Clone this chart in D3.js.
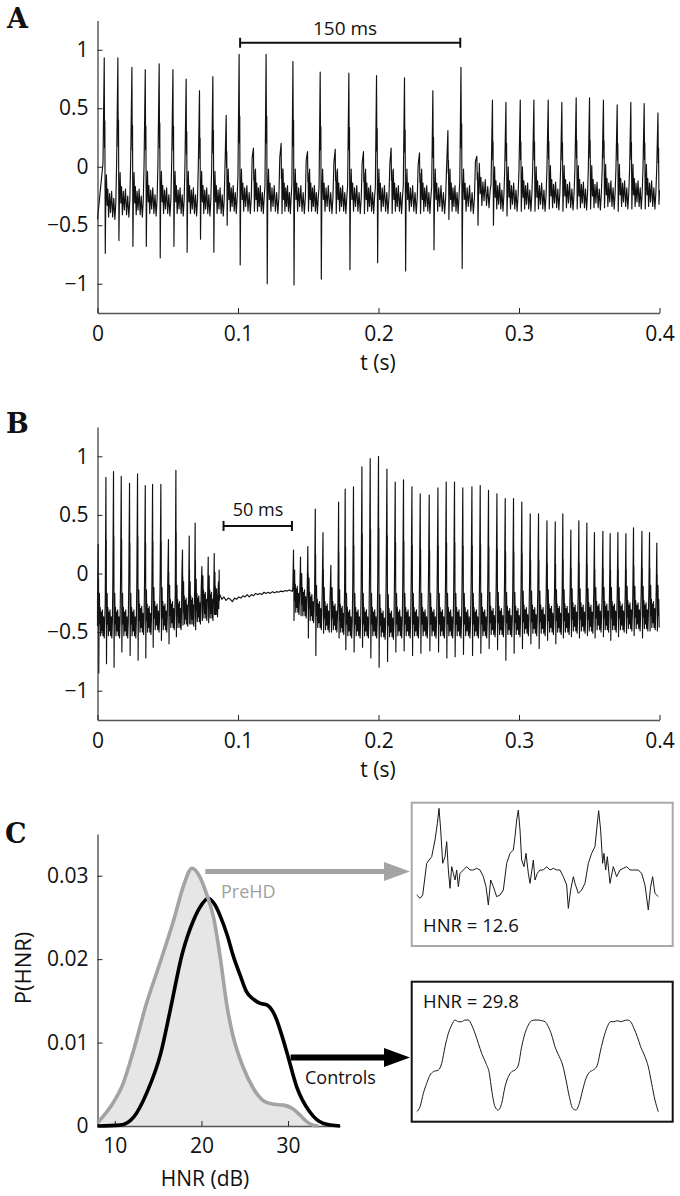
<!DOCTYPE html>
<html><head><meta charset="utf-8">
<script src="https://cdn.jsdelivr.net/npm/d3@7"></script>
<style>
body{margin:0;background:#fff;}
svg{display:block;font-family:"Open Sans",sans-serif;}
</style></head><body>
<svg id="c" width="680" height="1196"></svg>
<script>
// ---------- Panel A: glottal pulses (time s, peak, negative spike, baseline) ----------
const tA = [0.0048,0.0145,0.0245,0.0340,0.0439,0.0537,0.0631,0.0726,0.0821,0.0916,0.1008,0.1110,0.1200,0.1307,0.1391,0.1495,0.1585,0.1692,0.1789,0.1893,0.1986,0.2090,0.2185,0.2292,0.2387,0.2494,0.2587,0.2700,0.2811,0.2907,0.3009,0.3106,0.3208,0.3305,0.3407,0.3502,0.3601,0.3699,0.3796,0.3891,0.3989];
const peakA = [0.93,0.93,0.85,0.83,0.88,0.83,0.75,0.65,0.77,0.44,0.96,0.16,0.96,0.20,0.90,0.13,0.81,0.15,0.80,0.13,0.78,0.16,0.76,0.12,0.65,0.31,0.85,0.09,0.57,0.55,0.57,0.57,0.57,0.55,0.59,0.59,0.57,0.53,0.55,0.54,0.46];
const troughA = [-0.74,-0.63,-0.68,-0.68,-0.78,-0.68,-0.73,-0.62,-0.73,-0.50,-0.84,-0.38,-1.00,-0.40,-1.01,-0.38,-0.96,-0.40,-0.88,-0.40,-0.82,-0.40,-0.89,-0.40,-0.71,-0.45,-0.87,-0.50,-0.50,-0.42,-0.38,-0.38,-0.36,-0.38,-0.36,-0.36,-0.35,-0.38,-0.36,-0.36,-0.32];
const baseA = [-0.35,-0.33,-0.33,-0.32,-0.32,-0.32,-0.32,-0.32,-0.32,-0.30,-0.30,-0.30,-0.30,-0.30,-0.30,-0.30,-0.30,-0.30,-0.30,-0.30,-0.30,-0.30,-0.30,-0.30,-0.30,-0.30,-0.30,-0.25,-0.28,-0.28,-0.28,-0.28,-0.27,-0.27,-0.27,-0.27,-0.26,-0.26,-0.26,-0.26,-0.25];

// ---------- Panel B: before the break ----------
const tB1 = [0.0005,0.0060,0.0114,0.0169,0.0228,0.0285,0.0340,0.0392,0.0451,0.0505,0.0558,0.0605,0.0653,0.0695,0.0743,0.0788,0.0831,0.0861];
const peakB1 = [0.25,0.82,0.87,0.83,0.77,0.85,0.75,0.76,0.76,0.29,0.88,0.20,0.32,0.43,0.06,0.14,0.17,-0.07];
const troughB1 = [-0.85,-0.77,-0.80,-0.67,-0.70,-0.74,-0.72,-0.63,-0.57,-0.60,-0.54,-0.44,-0.43,-0.48,-0.40,-0.42,-0.35,-0.30];
const baseB1 = [-0.45,-0.45,-0.45,-0.45,-0.45,-0.42,-0.42,-0.40,-0.40,-0.38,-0.38,-0.35,-0.35,-0.33,-0.30,-0.30,-0.27,-0.25];
// break (no voicing)
const gapB = [[0.0870,-0.18],[0.0885,-0.22],[0.0900,-0.20],[0.0915,-0.23],[0.0930,-0.21],[0.0945,-0.22],[0.0960,-0.24],[0.0975,-0.21],[0.0990,-0.22],[0.1005,-0.20],[0.1020,-0.21],[0.1035,-0.19],[0.1050,-0.20],[0.1065,-0.18],[0.1080,-0.20],[0.1095,-0.18],[0.1110,-0.19],[0.1125,-0.17],[0.1140,-0.18],[0.1155,-0.17],[0.1170,-0.18],[0.1185,-0.16],[0.1200,-0.17],[0.1215,-0.16],[0.1230,-0.17],[0.1245,-0.155],[0.1260,-0.165],[0.1275,-0.155],[0.1290,-0.16],[0.1305,-0.15],[0.1320,-0.155],[0.1335,-0.145],[0.1350,-0.15],[0.1365,-0.14],[0.1380,-0.15]];
// after the break
const tB2 = [0.1395,0.1445,0.1497,0.1550,0.1605,0.1661,0.1716,0.1763,0.1822,0.1882,0.1941,0.2000,0.2060,0.2119,0.2178,0.2238,0.2297,0.2361,0.2423,0.2482,0.2541,0.2600,0.2665,0.2724,0.2783,0.2843,0.2902,0.2961,0.3020,0.3080,0.3139,0.3199,0.3258,0.3312,0.3369,0.3426,0.3483,0.3537,0.3597,0.3649,0.3704,0.3761,0.3815,0.3875,0.3929,0.3981];
const peakB2 = [0.20,0.14,0.23,0.55,0.35,0.07,0.61,0.72,0.74,0.91,0.98,1.00,0.89,0.78,0.80,0.74,0.68,0.67,0.73,0.78,0.78,0.73,0.74,0.75,0.71,0.68,0.64,0.64,0.61,0.51,0.51,0.45,0.44,0.51,0.37,0.45,0.43,0.35,0.36,0.34,0.35,0.34,0.39,0.36,0.35,0.26];
const troughB2 = [-0.40,-0.36,-0.55,-0.70,-0.51,-0.50,-0.55,-0.65,-0.67,-0.63,-0.72,-0.80,-0.75,-0.67,-0.66,-0.70,-0.68,-0.66,-0.67,-0.72,-0.71,-0.69,-0.70,-0.68,-0.64,-0.65,-0.74,-0.68,-0.64,-0.60,-0.64,-0.57,-0.60,-0.55,-0.54,-0.55,-0.53,-0.55,-0.54,-0.57,-0.54,-0.51,-0.53,-0.55,-0.49,-0.49];
const baseB2 = [-0.25,-0.28,-0.32,-0.38,-0.40,-0.40,-0.42,-0.45,-0.45,-0.45,-0.45,-0.46,-0.46,-0.45,-0.45,-0.45,-0.45,-0.45,-0.45,-0.45,-0.45,-0.45,-0.45,-0.45,-0.44,-0.44,-0.44,-0.44,-0.43,-0.43,-0.43,-0.42,-0.42,-0.42,-0.41,-0.41,-0.41,-0.40,-0.40,-0.40,-0.40,-0.39,-0.39,-0.39,-0.38,-0.38];

// shape of one cycle: [fraction of period, anchor, weight]
const cycleShape = [
 [0.000,"P",1.00],[0.025,"P",0.40],[0.045,"P",0.58],[0.075,"Q",0],
 [0.110,"B",0.05],[0.160,"B",0.28],[0.210,"B",0.02],[0.260,"B",0.16],
 [0.320,"B",-0.08],[0.390,"B",0.12],[0.460,"B",-0.04],[0.540,"B",0.14],
 [0.620,"B",-0.08],[0.700,"B",0.08],[0.780,"B",-0.10],[0.850,"B",0.04],
 [0.910,"P",0.30]];

const xTicksAB = [0,0.1,0.2,0.3,0.4];
const yTicksAB = [-1,-0.5,0,0.5,1];

// ---------- Panel C ----------
const hnrPre = [8.0,9.5,11.0,12.2,13.6,15.2,16.8,18.0,18.9,19.8,20.6,21.4,22.2,22.9,23.6,24.8,26.0,27.2,28.4,29.5,30.5,31.4,32.2,32.9,33.5];
const pPre = [0.0004,0.0023,0.0052,0.0092,0.0145,0.0195,0.0247,0.0290,0.0309,0.0299,0.0278,0.0250,0.0200,0.0147,0.0110,0.0071,0.0045,0.0030,0.0026,0.0025,0.0021,0.0013,0.0005,0.0001,0];
const hnrCtl = [8.0,10.6,12.2,13.7,15.3,16.4,17.8,19.1,20.0,20.8,21.5,22.2,23.0,23.7,24.5,25.2,26.0,26.8,27.6,28.2,28.7,29.3,29.9,31.0,32.5,34.1,36.0];
const pCtl = [0,0.0001,0.0011,0.0040,0.0087,0.0139,0.0207,0.0247,0.0265,0.0273,0.0266,0.0251,0.0228,0.0203,0.0180,0.0161,0.0152,0.0147,0.0145,0.0138,0.0127,0.0108,0.0087,0.0047,0.0017,0.0003,0];
const xTicksC = [10,20,30];
const yTicksC = [0,0.01,0.02,0.03];

// inset waveforms (sample index, amplitude a.u.)
const insetPreN = [50,60,68,80,95,105,112,117,122,128,135,140,145,150,155,160,165,170,175,180,190,200,210,220,230,240,250,258,265,272,280,290,300,310,320,330,340,345,350,355,360,365,372,378,385,390,400,405,412,420,430,440,450,460,470,480,490,500,505,512,520,525,535,545,555,565,575,585,590,596,602,608,612,617,622,630,640,650,660,670,680,690,700,715,725,735,745,752,758,765,775];
const insetPreA = [45,35,45,140,160,210,260,305,240,140,160,205,120,65,130,110,90,120,70,110,120,130,120,120,125,120,100,70,15,90,70,40,45,60,140,170,180,220,270,300,240,150,130,170,110,80,150,90,110,120,120,130,120,125,120,120,100,75,5,60,100,80,50,60,80,140,170,190,240,298,240,140,170,120,160,80,130,100,120,125,130,120,120,120,110,75,0,70,100,50,40];
const insetCtlN = [50,60,70,80,90,100,115,125,135,145,155,165,175,185,195,205,215,225,235,245,258,268,275,285,295,305,315,325,335,345,355,365,375,385,395,405,415,425,435,445,455,465,478,488,498,508,518,528,538,548,558,570,580,592,602,612,622,632,642,652,662,672,682,692,702,712,722,735,745,755,765,775];
const insetCtlA = [15,30,70,100,125,135,140,160,210,250,275,290,285,285,290,290,275,250,220,190,160,130,80,30,20,40,90,120,135,140,155,210,250,275,288,290,290,288,285,270,245,210,180,155,110,60,25,20,40,80,115,135,140,155,200,240,270,285,285,288,285,288,290,285,265,240,210,180,150,100,50,15];

// =====================================================================
const svg = d3.select("#c");
const fmt = d3.format("");
const TICKFONT = 21;

function styleAxis(g){
  g.attr("font-family",'"Open Sans",sans-serif').attr("font-size",TICKFONT);
  g.selectAll("text").attr("fill","#111");
  g.selectAll(".tick line").attr("stroke","#222");
}
function drawAxes(x, y, xt, yt, xPad){
  const gx = svg.append("g").attr("transform",`translate(0,${y.range()[0]})`)
    .call(d3.axisBottom(x).tickValues(xt).tickFormat(fmt).tickSizeInner(-5).tickSizeOuter(0).tickPadding(xPad));
  styleAxis(gx);
  gx.select(".domain").attr("stroke","#555").attr("stroke-width",1.6);
  const gy = svg.append("g").attr("transform",`translate(${x.range()[0]},0)`)
    .call(d3.axisLeft(y).tickValues(yt).tickFormat(fmt).tickSizeInner(-5).tickSizeOuter(0).tickPadding(9));
  styleAxis(gy);
  gy.select(".domain").attr("stroke","#222").attr("stroke-width",1.1);
}

function buildWave(ts, ps, qs, bs, tStart, vStart, tEnd){
  const pts = [[tStart, vStart]];
  ts.forEach((t,i)=>{
    const T = i < ts.length-1 ? ts[i+1]-t : t-ts[i-1];
    const P=ps[i], Q=qs[i], B=bs[i];
    if(i===0) pts.push([t-0.09*T, B+0.3*(P-B)]);
    cycleShape.forEach(([f,k,w])=>{
      const v = k==="P" ? B+w*(P-B) : (k==="Q" ? Q : B+w);
      pts.push([t+f*T, v]);
    });
  });
  return pts.filter(d=>d[0]>=tStart && d[0]<=tEnd);
}

function panelLetter(txt,x,y){
  svg.append("text").attr("x",x).attr("y",y).text(txt)
    .attr("font-family",'"DejaVu Serif",serif').attr("font-weight","bold").attr("font-size",27).attr("fill","#111");
}

function bracket(x, y, t0, t1, v, label, textX, textY, fs){
  const g = svg.append("g").attr("stroke","#111").attr("stroke-width",2);
  const yy = y(v);
  g.append("line").attr("x1",x(t0)).attr("x2",x(t1)).attr("y1",yy).attr("y2",yy);
  [t0,t1].forEach(t=>g.append("line").attr("x1",x(t)).attr("x2",x(t)).attr("y1",yy-5).attr("y2",yy+5));
  svg.append("text").attr("x",textX).attr("y",textY).attr("text-anchor","middle")
    .attr("font-size",fs).attr("fill","#111").text(label);
}

// ---------- Panel A ----------
const xA = d3.scaleLinear().domain([0,0.4]).range([97.5,659.5]);
const yA = d3.scaleLinear().domain([-1.25,1.25]).range([313,20.5]);
const lineA = d3.line().x(d=>xA(d[0])).y(d=>yA(d[1]));
svg.append("path").datum(buildWave(tA,peakA,troughA,baseA,0,-0.45,0.4))
  .attr("d",lineA).attr("fill","none").attr("stroke","#111").attr("stroke-width",1.15).attr("stroke-linejoin","round");
drawAxes(xA,yA,xTicksAB,yTicksAB,13);
svg.append("text").attr("x",378).attr("y",370).attr("text-anchor","middle").attr("font-size",21).attr("fill","#111").text("t (s)");
bracket(xA,yA,0.1015,0.2582,1.06,"150 ms",345,35,19);
panelLetter("A",7,28);

// ---------- Panel B ----------
const xB = d3.scaleLinear().domain([0,0.4]).range([97.5,659.5]);
const yB = d3.scaleLinear().domain([-1.25,1.25]).range([720,427]);
const lineB = d3.line().x(d=>xB(d[0])).y(d=>yB(d[1]));
const waveB = [].concat(
  buildWave(tB1,peakB1,troughB1,baseB1,0,-0.45,0.0868),
  gapB,
  buildWave(tB2,peakB2,troughB2,baseB2,0.1388,-0.15,0.4));
svg.append("path").datum(waveB)
  .attr("d",lineB).attr("fill","none").attr("stroke","#111").attr("stroke-width",1.15).attr("stroke-linejoin","round");
drawAxes(xB,yB,xTicksAB,yTicksAB,13);
svg.append("text").attr("x",378).attr("y",777).attr("text-anchor","middle").attr("font-size",21).attr("fill","#111").text("t (s)");
bracket(xB,yB,0.0897,0.1384,0.406,"50 ms",258,516,18);
panelLetter("B",6,433);

// ---------- Panel C ----------
const xC = d3.scaleLinear().domain([8,36]).range([97.5,340]);
const yC = d3.scaleLinear().domain([0,0.035]).range([1126,834]);
const preData = hnrPre.map((h,i)=>[h,pPre[i]]);
const ctlData = hnrCtl.map((h,i)=>[h,pCtl[i]]);
svg.append("path").datum(preData)
  .attr("d",d3.area().x(d=>xC(d[0])).y0(yC(0)).y1(d=>yC(d[1])).curve(d3.curveMonotoneX))
  .attr("fill","#e6e6e6");
drawAxes(xC,yC,xTicksC,yTicksC,12);
const lineC = d3.line().x(d=>xC(d[0])).y(d=>yC(d[1])).curve(d3.curveMonotoneX);
svg.append("path").datum(ctlData).attr("d",lineC).attr("fill","none").attr("stroke","#000").attr("stroke-width",3.6).attr("stroke-linejoin","round");
svg.append("path").datum(preData).attr("d",lineC).attr("fill","none").attr("stroke","#a3a3a3").attr("stroke-width",3.6).attr("stroke-linejoin","round");

svg.append("text").attr("x",205).attr("y",1186).attr("text-anchor","middle").attr("font-size",21).attr("fill","#111").text("HNR (dB)");
svg.append("text").attr("transform","translate(31,968) rotate(-90)").attr("text-anchor","middle").attr("font-size",22).attr("fill","#111").text("P(HNR)");
panelLetter("C",5,843);

function arrow(x0,y0,tip,color,w){
  const head=26, hw=9.5;
  svg.append("line").attr("x1",x0).attr("y1",y0).attr("x2",tip-head+2).attr("y2",y0)
    .attr("stroke",color).attr("stroke-width",w);
  svg.append("path").attr("d",`M${tip},${y0}L${tip-head},${y0-hw}L${tip-head},${y0+hw}Z`).attr("fill",color);
}
arrow(xC(20.45),yC(0.0305),410,"#a3a3a3",5);
arrow(xC(30.3),yC(0.0082),410,"#000",6);
svg.append("text").attr("x",221).attr("y",898).attr("font-size",18).attr("fill","#a0a0a0").text("PreHD");
svg.append("text").attr("x",305).attr("y",1084).attr("font-size",18).attr("fill","#111").text("Controls");

// insets
svg.append("rect").attr("x",411.7).attr("y",802.7).attr("width",261).attr("height",143.3)
  .attr("fill","none").attr("stroke","#a8a8a8").attr("stroke-width",2);
svg.append("rect").attr("x",411.7).attr("y",981.7).attr("width",261).attr("height",140)
  .attr("fill","none").attr("stroke","#111").attr("stroke-width",2);
const xIn = d3.scaleLinear().domain([50,775]).range([416.7,658.3]);
const yInP = d3.scaleLinear().domain([0,300]).range([910,810]);
const yInC = d3.scaleLinear().domain([0,300]).range([1116.7,1016.7]);
svg.append("path").datum(insetPreN.map((n,i)=>[n,insetPreA[i]]))
  .attr("d",d3.line().x(d=>xIn(d[0])).y(d=>yInP(d[1])))
  .attr("fill","none").attr("stroke","#1a1a1a").attr("stroke-width",1);
svg.append("path").datum(insetCtlN.map((n,i)=>[n,insetCtlA[i]]))
  .attr("d",d3.line().x(d=>xIn(d[0])).y(d=>yInC(d[1])).curve(d3.curveMonotoneX))
  .attr("fill","none").attr("stroke","#1a1a1a").attr("stroke-width",1);
svg.append("text").attr("x",423).attr("y",932).attr("font-size",18.5).attr("fill","#111").text("HNR = 12.6");
svg.append("text").attr("x",423).attr("y",1008).attr("font-size",18.5).attr("fill","#111").text("HNR = 29.8");
</script>
</body></html>
